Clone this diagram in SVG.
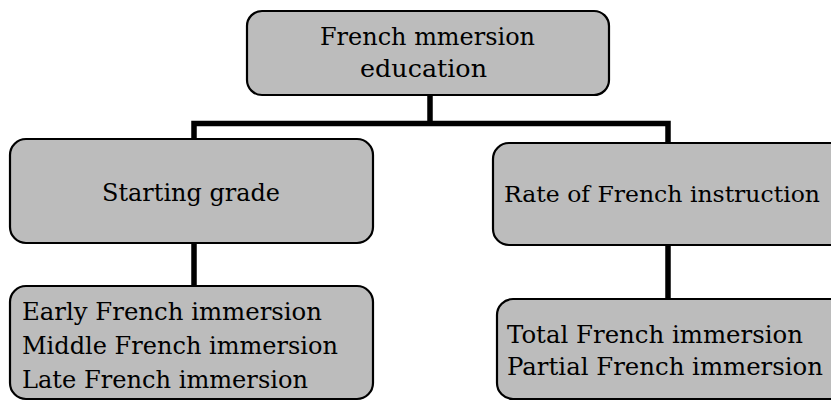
<svg xmlns="http://www.w3.org/2000/svg" width="831" height="401" viewBox="0 0 831 401">
  <style>
    .box { fill: #bcbcbc; stroke: #000; stroke-width: 2.2; }
    .t { font-family: "DejaVu Serif", "Liberation Serif", serif; font-size: 25px; fill: #000; }
    .c { fill: none; stroke: #000; stroke-width: 5.5; stroke-linecap: butt; stroke-linejoin: miter; }
  </style>
  <rect width="831" height="401" fill="#fff"/>
  <g id="connectors">
    <path class="c" d="M430 95 V123.5 M194 243 V286 M194 140 V123.5 H668 V143 M668 245 V299"/>
  </g>
  <g id="root">
    <rect class="box" x="247" y="11" width="362" height="84" rx="15" ry="15"/>
    <text class="t" x="320" y="45" textLength="215" lengthAdjust="spacingAndGlyphs">French mmersion</text>
    <text class="t" x="360" y="77" textLength="127" lengthAdjust="spacingAndGlyphs">education</text>
  </g>
  <g id="starting-grade">
    <rect class="box" x="10" y="139" width="363" height="104" rx="16" ry="16"/>
    <text class="t" x="102" y="201" textLength="178" lengthAdjust="spacingAndGlyphs">Starting grade</text>
  </g>
  <g id="rate">
    <path class="box" d="M831 143 H509 A16 16 0 0 0 493 159 V229 A16 16 0 0 0 509 245 H831"/>
    <text class="t" x="504" y="202" font-size="23" textLength="316" lengthAdjust="spacingAndGlyphs" style="font-size:23px">Rate of French instruction</text>
  </g>
  <g id="grade-types">
    <rect class="box" x="10" y="286" width="363" height="113" rx="16" ry="16"/>
    <text class="t" x="22" y="320" textLength="300" lengthAdjust="spacingAndGlyphs">Early French immersion</text>
    <text class="t" x="22" y="354" textLength="316" lengthAdjust="spacingAndGlyphs">Middle French immersion</text>
    <text class="t" x="22" y="388" textLength="286" lengthAdjust="spacingAndGlyphs">Late French immersion</text>
  </g>
  <g id="rate-types">
    <path class="box" d="M831 299 H513 A16 16 0 0 0 497 315 V383 A16 16 0 0 0 513 399 H831"/>
    <text class="t" x="507" y="343" textLength="296" lengthAdjust="spacingAndGlyphs">Total French immersion</text>
    <text class="t" x="507" y="375" textLength="316" lengthAdjust="spacingAndGlyphs">Partial French immersion</text>
  </g>
</svg>
